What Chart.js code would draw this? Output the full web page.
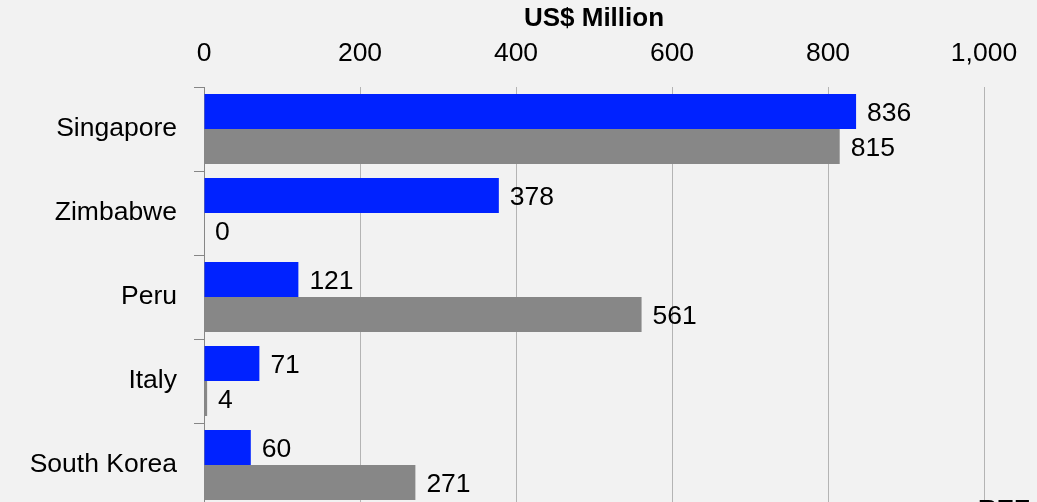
<!DOCTYPE html>
<html>
<head>
<meta charset="utf-8">
<script src="https://cdn.jsdelivr.net/npm/chart.js@4"></script>
<style>
  html, body { margin: 0; padding: 0; background: #f2f2f2; overflow: hidden; width: 1037px; height: 502px; }
  #wrap { position: absolute; left: 0; top: 0; width: 1037px; height: 510px; }
  #cut { position: absolute; left: 978px; top: 494px; font: bold 26px 'Liberation Sans', Arial, sans-serif; color: #000; }
</style>
</head>
<body>
<div id="wrap"><canvas id="myChart" width="1037" height="510"></canvas></div>
<div id="cut">REF</div>
<script>
const TITLE = 'US$ Million';
const countries = ['Singapore', 'Zimbabwe', 'Peru', 'Italy', 'South Korea'];
const seriesA = [836, 378, 121, 71, 60];
const seriesB = [815, 0, 561, 4, 271];
const xTicks = [0, 200, 400, 600, 800, 1000];

const FONT = "'Liberation Sans', Arial, sans-serif";

// value next to the end of each bar
const valueLabels = {
  id: 'valueLabels',
  afterDatasetsDraw(chart) {
    const ctx = chart.ctx;
    ctx.save();
    ctx.font = '26.5px ' + FONT;
    ctx.fillStyle = '#000';
    ctx.textBaseline = 'middle';
    ctx.textAlign = 'left';
    chart.data.datasets.forEach((ds, i) => {
      chart.getDatasetMeta(i).data.forEach((bar, j) => {
        ctx.fillText(ds.data[j].toLocaleString('en-US'), bar.x + 11, bar.y + 2);
      });
    });
    ctx.restore();
  }
};

const data = {
  labels: countries,
  datasets: [{
    label: 'Series 1',
    data: seriesA,
    backgroundColor: '#0022ff',
    barPercentage: 1,
    categoryPercentage: 0.833
  }, {
    label: 'Series 2',
    data: seriesB,
    backgroundColor: '#878787',
    barPercentage: 1,
    categoryPercentage: 0.833
  }]
};

const config = {
  type: 'bar',
  data: data,
  options: {
    indexAxis: 'y',
    responsive: false,
    animation: false,
    layout: { padding: { top: 0, right: 53, bottom: 3, left: 0 } },
    plugins: {
      legend: { display: false },
      tooltip: { enabled: false }
    },
    scales: {
      x: {
        position: 'top',
        min: 0,
        max: 1000,
        afterFit: (s) => { s.height = 87; },
        afterBuildTicks: (s) => { s.ticks = xTicks.map(v => ({ value: v })); },
        title: {
          display: true,
          text: TITLE,
          color: '#000',
          font: { family: FONT, size: 26, weight: 'bold' },
          padding: { top: 3, bottom: 0 }
        },
        ticks: {
          color: '#000',
          font: { family: FONT, size: 26.5 },
          padding: 17,
          callback: (v) => v.toLocaleString('en-US')
        },
        grid: { color: '#b4b4b4', drawTicks: false },
        border: { display: false }
      },
      y: {
        afterFit: (s) => {
          s.width = 204;
          s.paddingTop = 0;
          s.paddingBottom = 0;
        },
        ticks: {
          color: '#000',
          font: { family: FONT, size: 26.5 },
          padding: 17
        },
        grid: { drawOnChartArea: false, drawTicks: true, tickLength: 10, color: '#868686', offset: true },
        border: { display: true, color: '#868686' }
      }
    }
  },
  plugins: [valueLabels]
};

const myChart = new Chart(document.getElementById('myChart'), config);
</script>
</body>
</html>
